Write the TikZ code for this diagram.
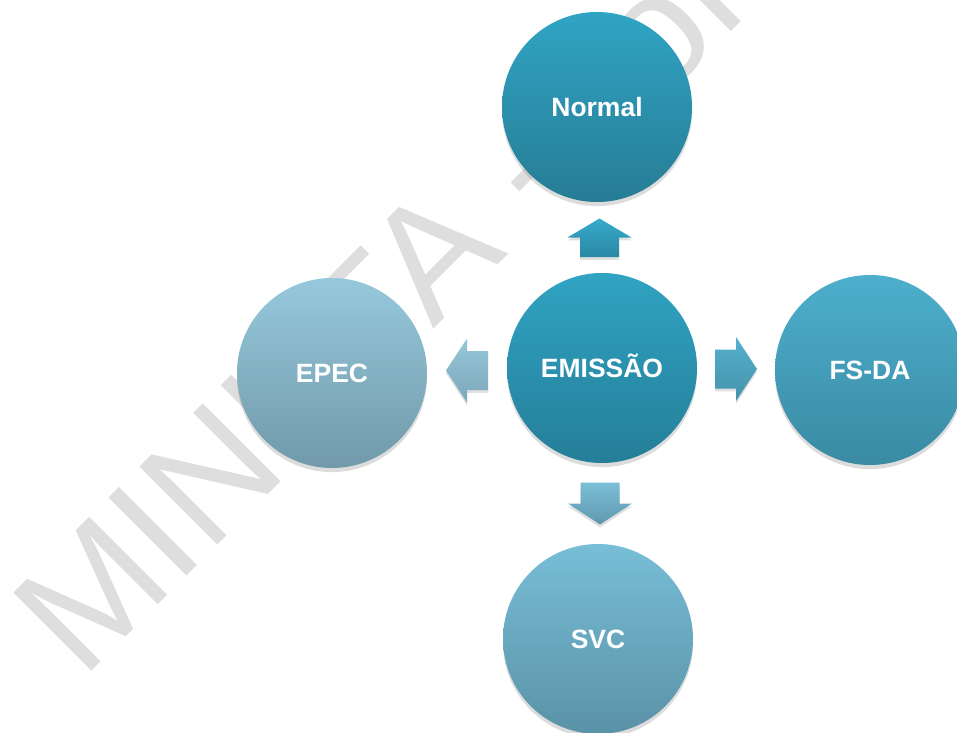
\documentclass[tikz,border=0pt]{standalone}
\usepackage{fontspec}
\setmainfont{Liberation Sans}
\usepackage{tikz}
\usetikzlibrary{calc,shadows}
\definecolor{cinzamarca}{HTML}{DEDEDE}
\definecolor{emisA}{HTML}{30A3C3}
\definecolor{emisB}{HTML}{257E98}
\definecolor{normA}{HTML}{30A4C4}
\definecolor{normB}{HTML}{277C95}
\definecolor{epecA}{HTML}{96C9DC}
\definecolor{epecB}{HTML}{7199A9}
\definecolor{fsdaA}{HTML}{4DAFCC}
\definecolor{fsdaB}{HTML}{3A8AA3}
\definecolor{svcA}{HTML}{78BED7}
\definecolor{svcB}{HTML}{5A92A7}
\definecolor{upA}{HTML}{37AACA}
\definecolor{upB}{HTML}{2A88A4}
\definecolor{downA}{HTML}{7ABFD8}
\definecolor{downB}{HTML}{6098AD}
\definecolor{leftA}{HTML}{95C7DB}
\definecolor{leftB}{HTML}{7CA8B8}
\definecolor{rightA}{HTML}{55B0CC}
\definecolor{rightB}{HTML}{4592AB}
\tikzset{
  bola/.style={circle, minimum size=5.7cm, inner sep=0pt, text=white,
    font=\fontsize{22.6}{24}\selectfont\bfseries, text height=16.2pt, text depth=0pt,
    drop shadow={opacity=.28, shadow xshift=0pt, shadow yshift=-3.5pt}},
  seta/.style={drop shadow={opacity=.25, shadow xshift=0pt, shadow yshift=-2.5pt}},
  marca/.style={text=cinzamarca, font=\fontsize{137}{137}\selectfont,
    rotate=45, anchor=base west, inner sep=0pt},
}
\begin{document}
\begin{tikzpicture}[x=0.03cm, y=-0.03cm]
  \useasboundingbox (0,0) rectangle (957,733);
  \clip (0,0) rectangle (957,733);

  % marca d'agua
  \node[marca] (wm) at (82,681) {MINUTA -Con};

  \node[bola, top color=emisA, bottom color=emisB] (emis) at (602,368) {EMISSÃO};
  \node[bola, top color=normA, bottom color=normB] (norm) at (597,107) {Normal};
  \node[bola, top color=epecA, bottom color=epecB] (epec) at (332,373) {EPEC};
  \node[bola, top color=fsdaA, bottom color=fsdaB] (fsda) at (870,370) {FS-DA};
  \node[bola, top color=svcA, bottom color=svcB] (svc) at (598,639) {SVC};

  \coordinate (mU) at ($(emis.north)!.5!(norm.south)$);
  \coordinate (mD) at ($(emis.south)!.5!(svc.north)$);
  \coordinate (mL) at ($(emis.west)!.5!(epec.east)$);
  \coordinate (mR) at ($(emis.east)!.5!(fsda.west)$);

  \path[seta, top color=upA, bottom color=upB]
    ($(mU)+(-19.5,19.5)$) -- ++(0,-19.5) -- ++(-12.5,0) -- ++(32,-19)
    -- ++(32,19) -- ++(-12.5,0) -- ++(0,19.5) -- cycle;
  \path[seta, top color=downA, bottom color=downB]
    ($(mD)+(-19.5,-21)$) -- ++(0,21) -- ++(-12.5,0) -- ++(32,21)
    -- ++(32,-21) -- ++(-12.5,0) -- ++(0,-21) -- cycle;
  \path[seta, top color=leftA, bottom color=leftB]
    ($(mL)+(21,-19.5)$) -- ++(-21,0) -- ++(0,-12.5) -- ++(-21,32)
    -- ++(21,32) -- ++(0,-12.5) -- ++(21,0) -- cycle;
  \path[seta, top color=rightA, bottom color=rightB]
    ($(mR)+(-21,-19.5)$) -- ++(21,0) -- ++(0,-12.5) -- ++(21,32)
    -- ++(-21,32) -- ++(0,-12.5) -- ++(-21,0) -- cycle;
\end{tikzpicture}
\end{document}
